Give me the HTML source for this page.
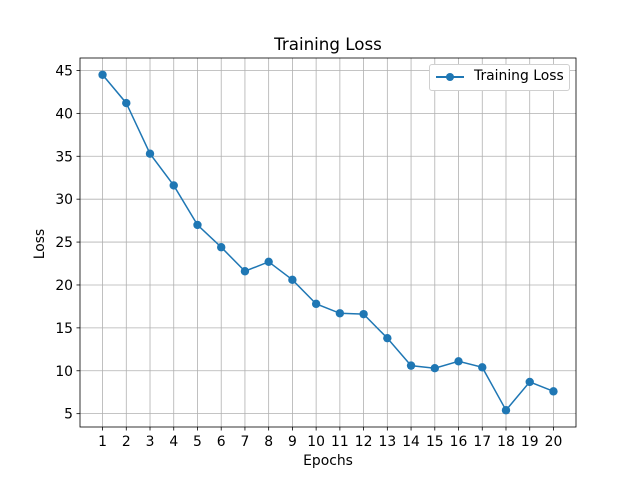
<!DOCTYPE html>
<html><head><meta charset="utf-8"><style>body{margin:0;background:#fff}svg{font-family:"DejaVu Sans","Liberation Sans",sans-serif}</style></head>
<body>
<svg id="chart" width="640" height="480"></svg>
<script>
const epochs=[1,2,3,4,5,6,7,8,9,10,11,12,13,14,15,16,17,18,19,20];
const loss=[44.5,41.2,35.3,31.6,27.0,24.4,21.6,22.7,20.6,17.8,16.7,16.6,13.8,10.6,10.3,11.1,10.4,5.4,8.7,7.6];
const yTicks=[5,10,15,20,25,30,35,40,45];
const L=80,R=576,T=58,B=427;
const ymin=Math.min(...loss),ymax=Math.max(...loss),pad=(ymax-ymin)*0.05;
const y0=ymin-pad,y1=ymax+pad,x0=epochs[0]-(epochs[epochs.length-1]-epochs[0])*0.05,x1=epochs[epochs.length-1]+(epochs[epochs.length-1]-epochs[0])*0.05;
const sx=v=>L+(v-x0)/(x1-x0)*(R-L), sy=v=>B-(v-y0)/(y1-y0)*(B-T);
const svg=document.getElementById('chart');const NS='http://www.w3.org/2000/svg';
function mk(t,a,p){const e=document.createElementNS(NS,t);for(const k in a)e.setAttribute(k,a[k]);(p||svg).appendChild(e);return e;}
epochs.forEach(v=>{const x=sx(v);
const g=mk('line',{x1:x,x2:x,y1:T,y2:B,stroke:'#b0b0b0','stroke-width':0.8});


mk('line',{x1:x,x2:x,y1:B,y2:B+3.5,stroke:'#000','stroke-width':0.8});
const t=mk('text',{x:x,y:B+19,'font-size':13.9,'text-anchor':'middle'});t.textContent=v;

});
yTicks.forEach(v=>{const y=sy(v);
const g=mk('line',{x1:L,x2:R,y1:y,y2:y,stroke:'#b0b0b0','stroke-width':0.8});


mk('line',{x1:L-3.5,x2:L,y1:y,y2:y,stroke:'#000','stroke-width':0.8});
const t=mk('text',{x:L-7,y:y+5,'font-size':13.9,'text-anchor':'end'});t.textContent=v;

});
const fr=mk('rect',{x:L,y:T,width:R-L,height:B-T,fill:'none',stroke:'#000','stroke-width':0.8});


const pl=mk('polyline',{points:epochs.map((e,i)=>sx(e)+','+sy(loss[i])).join(' '),fill:'none',stroke:'#1f77b4','stroke-width':1.5});


epochs.forEach((e,i)=>{const c=mk('circle',{cx:sx(e),cy:sy(loss[i]),r:4.2,fill:'#1f77b4'});

});
</script>
<div style="position:absolute;left:0;top:0;width:640px;height:480px;pointer-events:none">
<div style="position:absolute;left:80px;width:496px;top:34px;text-align:center;font:16.7px 'DejaVu Sans',sans-serif">Training Loss</div>
<div style="position:absolute;left:80px;width:496px;top:453px;text-align:center;font:13.9px 'DejaVu Sans',sans-serif">Epochs</div>
<div style="position:absolute;left:40px;top:244px;transform:translate(-50%,-50%) rotate(-90deg);font:13.9px 'DejaVu Sans',sans-serif">Loss</div>
<div style="position:absolute;left:429px;top:64px;width:139px;height:25px;border:1px solid #d0d0d0;border-radius:3px;background:#fff;font:13.9px 'DejaVu Sans',sans-serif">
<div style="position:absolute;left:6px;top:11px;width:28px;height:1.5px;background:#1f77b4"></div>
<div style="position:absolute;left:15.5px;top:7.5px;width:8.4px;height:8.4px;border-radius:50%;background:#1f77b4"></div>
<span style="position:absolute;left:44px;top:3px">Training Loss</span></div>
</div>
</body></html>
